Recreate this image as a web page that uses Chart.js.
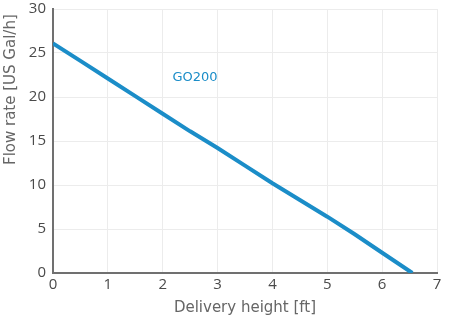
<!DOCTYPE html>
<html>
<head>
<meta charset="utf-8">
<script src="https://cdn.jsdelivr.net/npm/chart.js@4/dist/chart.umd.min.js"></script>
<style>
  html, body { margin: 0; padding: 0; background: #fff; }
  #wrap { width: 450px; height: 321px; }
</style>
</head>
<body>
<div id="wrap"><canvas id="pumpChart"></canvas></div>
<script>
// delivery height [ft] vs flow rate [US Gal/h]
const heights = [0, 0.5, 1, 1.5, 2, 2.5, 3, 3.5, 4, 4.5, 5, 5.5, 6, 6.55];
const flowRates = [26.1, 24.1, 22.1, 20.1, 18.1, 16.1, 14.2, 12.2, 10.2, 8.3, 6.4, 4.4, 2.3, 0];
const xTicks = [0, 1, 2, 3, 4, 5, 6, 7];
const yTicks = [0, 5, 10, 15, 20, 25, 30];
const seriesName = "GO200";
const labelPos = [2.59, 22.2];

const blue = "#1b8dc8";
const tickFont = "'Open Sans', sans-serif";
const titleFont = "'DejaVu Sans', sans-serif";

const extraText = {
  id: "extraText",
  afterDraw(chart) {
    const ctx = chart.ctx;
    const xs = chart.scales.x, ys = chart.scales.y;
    ctx.save();
    // series label
    ctx.font = "13px " + titleFont;
    ctx.fillStyle = blue;
    ctx.textAlign = "center";
    ctx.textBaseline = "middle";
    ctx.fillText(seriesName, xs.getPixelForValue(labelPos[0]), ys.getPixelForValue(labelPos[1]));
    // y axis title (sits high, partly cut off at the top)
    ctx.translate(11, 165);
    ctx.rotate(-Math.PI / 2);
    ctx.font = "15px " + titleFont;
    ctx.fillStyle = "#666";
    ctx.textAlign = "left";
    ctx.fillText("Flow rate [US Gal/h]", 0, 0);
    ctx.restore();
  }
};

new Chart(document.getElementById("pumpChart"), {
  type: "line",
  data: {
    datasets: [{
      label: seriesName,
      data: heights.map((h, i) => ({ x: h, y: flowRates[i] })),
      borderColor: blue,
      borderWidth: 4,
      pointRadius: 0,
      tension: 0,
      fill: false
    }]
  },
  options: {
    responsive: true,
    maintainAspectRatio: false,
    animation: false,
    layout: { padding: { top: 9, right: 13, left: 0, bottom: 0 } },
    plugins: { legend: { display: false }, tooltip: { enabled: false } },
    scales: {
      x: {
        type: "linear",
        min: 0,
        max: 7,
        afterBuildTicks: (s) => { s.ticks = xTicks.map(v => ({ value: v })); },
        afterFit: (s) => { s.height = 48; },
        grid: { color: "#ececec", drawTicks: false },
        border: { color: "#707070", width: 2 },
        ticks: { color: "#4a4a4a", font: { family: tickFont, size: 15 }, padding: 3 },
        title: {
          display: true,
          text: "Delivery height [ft]",
          color: "#666",
          font: { family: titleFont, size: 15 },
          padding: { top: 1 }
        }
      },
      y: {
        min: 0,
        max: 30,
        afterBuildTicks: (s) => { s.ticks = yTicks.map(v => ({ value: v })); },
        afterFit: (s) => { s.width = 53; s.paddingTop = 0; s.paddingBottom = 0; },
        grid: { color: "#ececec", drawTicks: false },
        border: { color: "#707070", width: 2 },
        ticks: { color: "#4a4a4a", font: { family: tickFont, size: 15 }, padding: 7 }
      }
    }
  },
  plugins: [extraText]
});
</script>
</body>
</html>
